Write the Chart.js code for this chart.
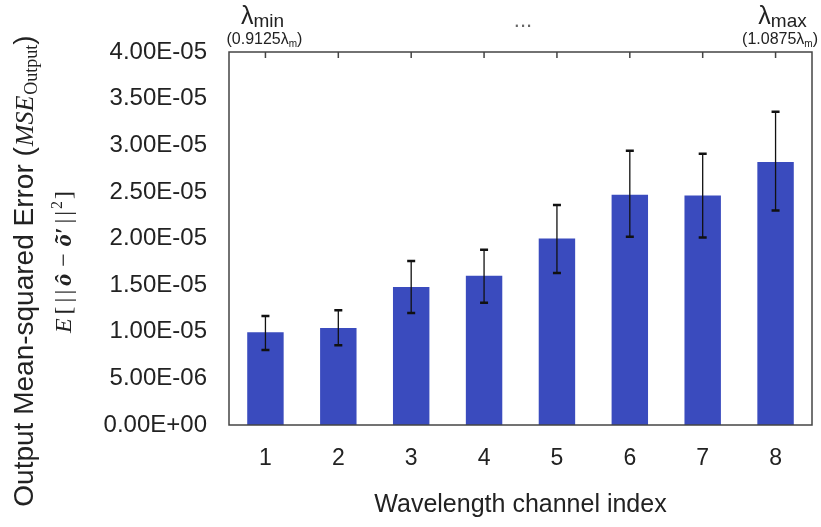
<!DOCTYPE html>
<html>
<head>
<meta charset="utf-8">
<script src="https://cdn.jsdelivr.net/npm/chart.js@4"></script>
<style>
  body { margin: 0; background: #fff; }
  #wrap { width: 821px; height: 527px; position: relative; }
</style>
</head>
<body>
<div id="wrap"><canvas id="mseChart"></canvas></div>
<script>
// channel indices and mean output MSE per channel
var channels = ["1", "2", "3", "4", "5", "6", "7", "8"];
var mseMean = [9.95e-6, 1.04e-5, 1.48e-5, 1.60e-5, 2.00e-5, 2.47e-5, 2.46e-5, 2.82e-5];
// error bar ends
var mseLow  = [8.05e-6, 8.55e-6, 1.20e-5, 1.31e-5, 1.63e-5, 2.02e-5, 2.01e-5, 2.30e-5];
var mseHigh = [1.17e-5, 1.23e-5, 1.76e-5, 1.88e-5, 2.36e-5, 2.94e-5, 2.91e-5, 3.36e-5];
// y ticks
var yMin = 0, yMax = 4e-5, yStep = 5e-6;
// labels above the plot
var topLeft = { sym: "λ", sub: "min", note: "(0.9125λ", noteSub: "m" };
var topRight = { sym: "λ", sub: "max", note: "(1.0875λ", noteSub: "m" };
var topMiddle = "...";

var SANS = "'Liberation Sans', Arial, sans-serif";
var SERIF = "'Liberation Serif', 'DejaVu Serif', serif";

function sciLabel(v) {
  if (Math.abs(v) < 1e-12) return "0.00E+00";
  var s = v.toExponential(2).split("e");
  var ex = parseInt(s[1], 10);
  var sign = ex < 0 ? "-" : "+";
  var a = Math.abs(ex);
  return s[0] + "E" + sign + (a < 10 ? "0" + a : a);
}

// a run is a list of [text, font, dy, gapAfter]
function drawRun(ctx, parts, x, y) {
  parts.forEach(function (p) {
    ctx.font = p[1];
    ctx.fillText(p[0], x, y + (p[2] || 0));
    x += ctx.measureText(p[0]).width + (p[3] || 0);
  });
  return x;
}
function runWidth(ctx, parts) {
  var w = 0;
  parts.forEach(function (p) { ctx.font = p[1]; w += ctx.measureText(p[0]).width + (p[3] || 0); });
  return w;
}

var decorPlugin = {
  id: "decor",
  afterDatasetsDraw: function (chart) {
    var ctx = chart.ctx, a = chart.chartArea;
    var xs = chart.scales.x, ys = chart.scales.y;
    ctx.save();
    // error bars
    ctx.strokeStyle = "#111";
    for (var i = 0; i < channels.length; i++) {
      var x = xs.getPixelForValue(i);
      var yt = ys.getPixelForValue(mseHigh[i]);
      var yb = ys.getPixelForValue(mseLow[i]);
      ctx.lineWidth = 1.3;
      ctx.beginPath();
      ctx.moveTo(x, yt); ctx.lineTo(x, yb);
      ctx.stroke();
      ctx.lineWidth = 2.5;
      ctx.beginPath();
      ctx.moveTo(x - 4, yt); ctx.lineTo(x + 4, yt);
      ctx.moveTo(x - 4, yb); ctx.lineTo(x + 4, yb);
      ctx.stroke();
    }
    // frame
    ctx.strokeStyle = "#444";
    ctx.lineWidth = 1.5;
    ctx.strokeRect(a.left, a.top, a.right - a.left, a.bottom - a.top);
    // inward ticks on the top edge
    ctx.beginPath();
    for (var j = 0; j < channels.length; j++) {
      var tx = xs.getPixelForValue(j);
      ctx.moveTo(tx, a.top); ctx.lineTo(tx, a.top + 6);
    }
    ctx.stroke();
    ctx.restore();
  },
  afterDraw: function (chart) {
    var ctx = chart.ctx, xs = chart.scales.x;
    var W = chart.width;
    ctx.save();
    ctx.fillStyle = "#222";
    ctx.textBaseline = "alphabetic";
    ctx.textAlign = "left";

    // top labels, centred over the first and last channel
    var bigF = "25px " + SANS, subF = "19px " + SANS, noteF = "16px " + SANS, noteSubF = "10px " + SANS;
    var groups = [[topLeft, xs.getPixelForValue(0) - 3], [topRight, xs.getPixelForValue(channels.length - 1) + 7]];
    groups.forEach(function (g) {
      var t = g[0], cx = g[1];
      var head = [[t.sym, bigF, 0], [t.sub, subF, 3]];
      drawRun(ctx, head, cx - runWidth(ctx, head) / 2, 24);
      var note = [[t.note, noteF, 0], [t.noteSub, noteSubF, 3], [")", noteF, 0]];
      var nw = runWidth(ctx, note);
      drawRun(ctx, note, Math.min(cx - nw / 2 + 2, W - 3 - nw), 44);
    });

    ctx.fillStyle = "#666";
    ctx.font = "22px " + SANS;
    ctx.textAlign = "center";
    ctx.fillText(topMiddle, 523, 27);

    // y axis title, two rotated lines
    ctx.fillStyle = "#222";
    ctx.textAlign = "left";
    var l1 = [
      ["Output Mean-squared Error (", "28px " + SANS, 0, 1],
      ["MSE", "italic 26px " + SERIF, 0, 1],
      ["Output", "18px " + SERIF, 4, 0],
      [")", "28px " + SANS, 0]
    ];
    var g2 = 4;
    var l2 = [
      ["E", "italic 24px " + SERIF, 0, g2],
      ["[", "24px " + SERIF, 0, g2],
      ["|", "24px " + SERIF, 0, g2 - 1],
      ["|", "24px " + SERIF, 0, g2],
      ["ô", "bold italic 24px " + SERIF, 0, g2 + 3],
      ["−", "24px " + SERIF, 0, g2 + 3],
      ["õ′", "bold italic 24px " + SERIF, 0, g2],
      ["|", "24px " + SERIF, 0, g2 - 1],
      ["|", "24px " + SERIF, 0, 2],
      ["2", "16px " + SERIF, -9, 2],
      ["]", "24px " + SERIF, 0]
    ];
    ctx.save();
    ctx.translate(33, 271);
    ctx.rotate(-Math.PI / 2);
    drawRun(ctx, l1, -runWidth(ctx, l1) / 2, 0);
    ctx.restore();
    ctx.save();
    ctx.translate(71, 262);
    ctx.rotate(-Math.PI / 2);
    drawRun(ctx, l2, -runWidth(ctx, l2) / 2, 0);
    ctx.restore();
    ctx.restore();
  }
};

var ctx = document.getElementById("mseChart").getContext("2d");
var mseChart = new Chart(ctx, {
  type: "bar",
  data: {
    labels: channels,
    datasets: [{
      data: mseMean,
      backgroundColor: "#3a4bbe",
      borderWidth: 0,
      barPercentage: 0.5,
      categoryPercentage: 1.0
    }]
  },
  options: {
    responsive: true,
    maintainAspectRatio: false,
    animation: false,
    layout: { padding: { left: 0, top: 52, right: 9, bottom: 0 } },
    plugins: { legend: { display: false }, tooltip: { enabled: false } },
    scales: {
      x: {
        grid: { display: false, drawTicks: false },
        border: { display: false },
        afterFit: function (s) { s.height = 102; },
        ticks: { color: "#222", padding: 20, font: { family: SANS, size: 23 } },
        title: {
          display: true,
          text: "Wavelength channel index",
          color: "#222",
          font: { family: SANS, size: 25 },
          padding: { top: 0, bottom: 7 }
        }
      },
      y: {
        min: yMin,
        max: yMax,
        grid: { display: false, drawTicks: false },
        border: { display: false },
        afterFit: function (s) { s.width = 229; },
        ticks: {
          stepSize: yStep,
          color: "#222",
          padding: 22,
          font: { family: SANS, size: 24 },
          callback: function (v) { return sciLabel(v); }
        }
      }
    }
  },
  plugins: [decorPlugin]
});
</script>
</body>
</html>
